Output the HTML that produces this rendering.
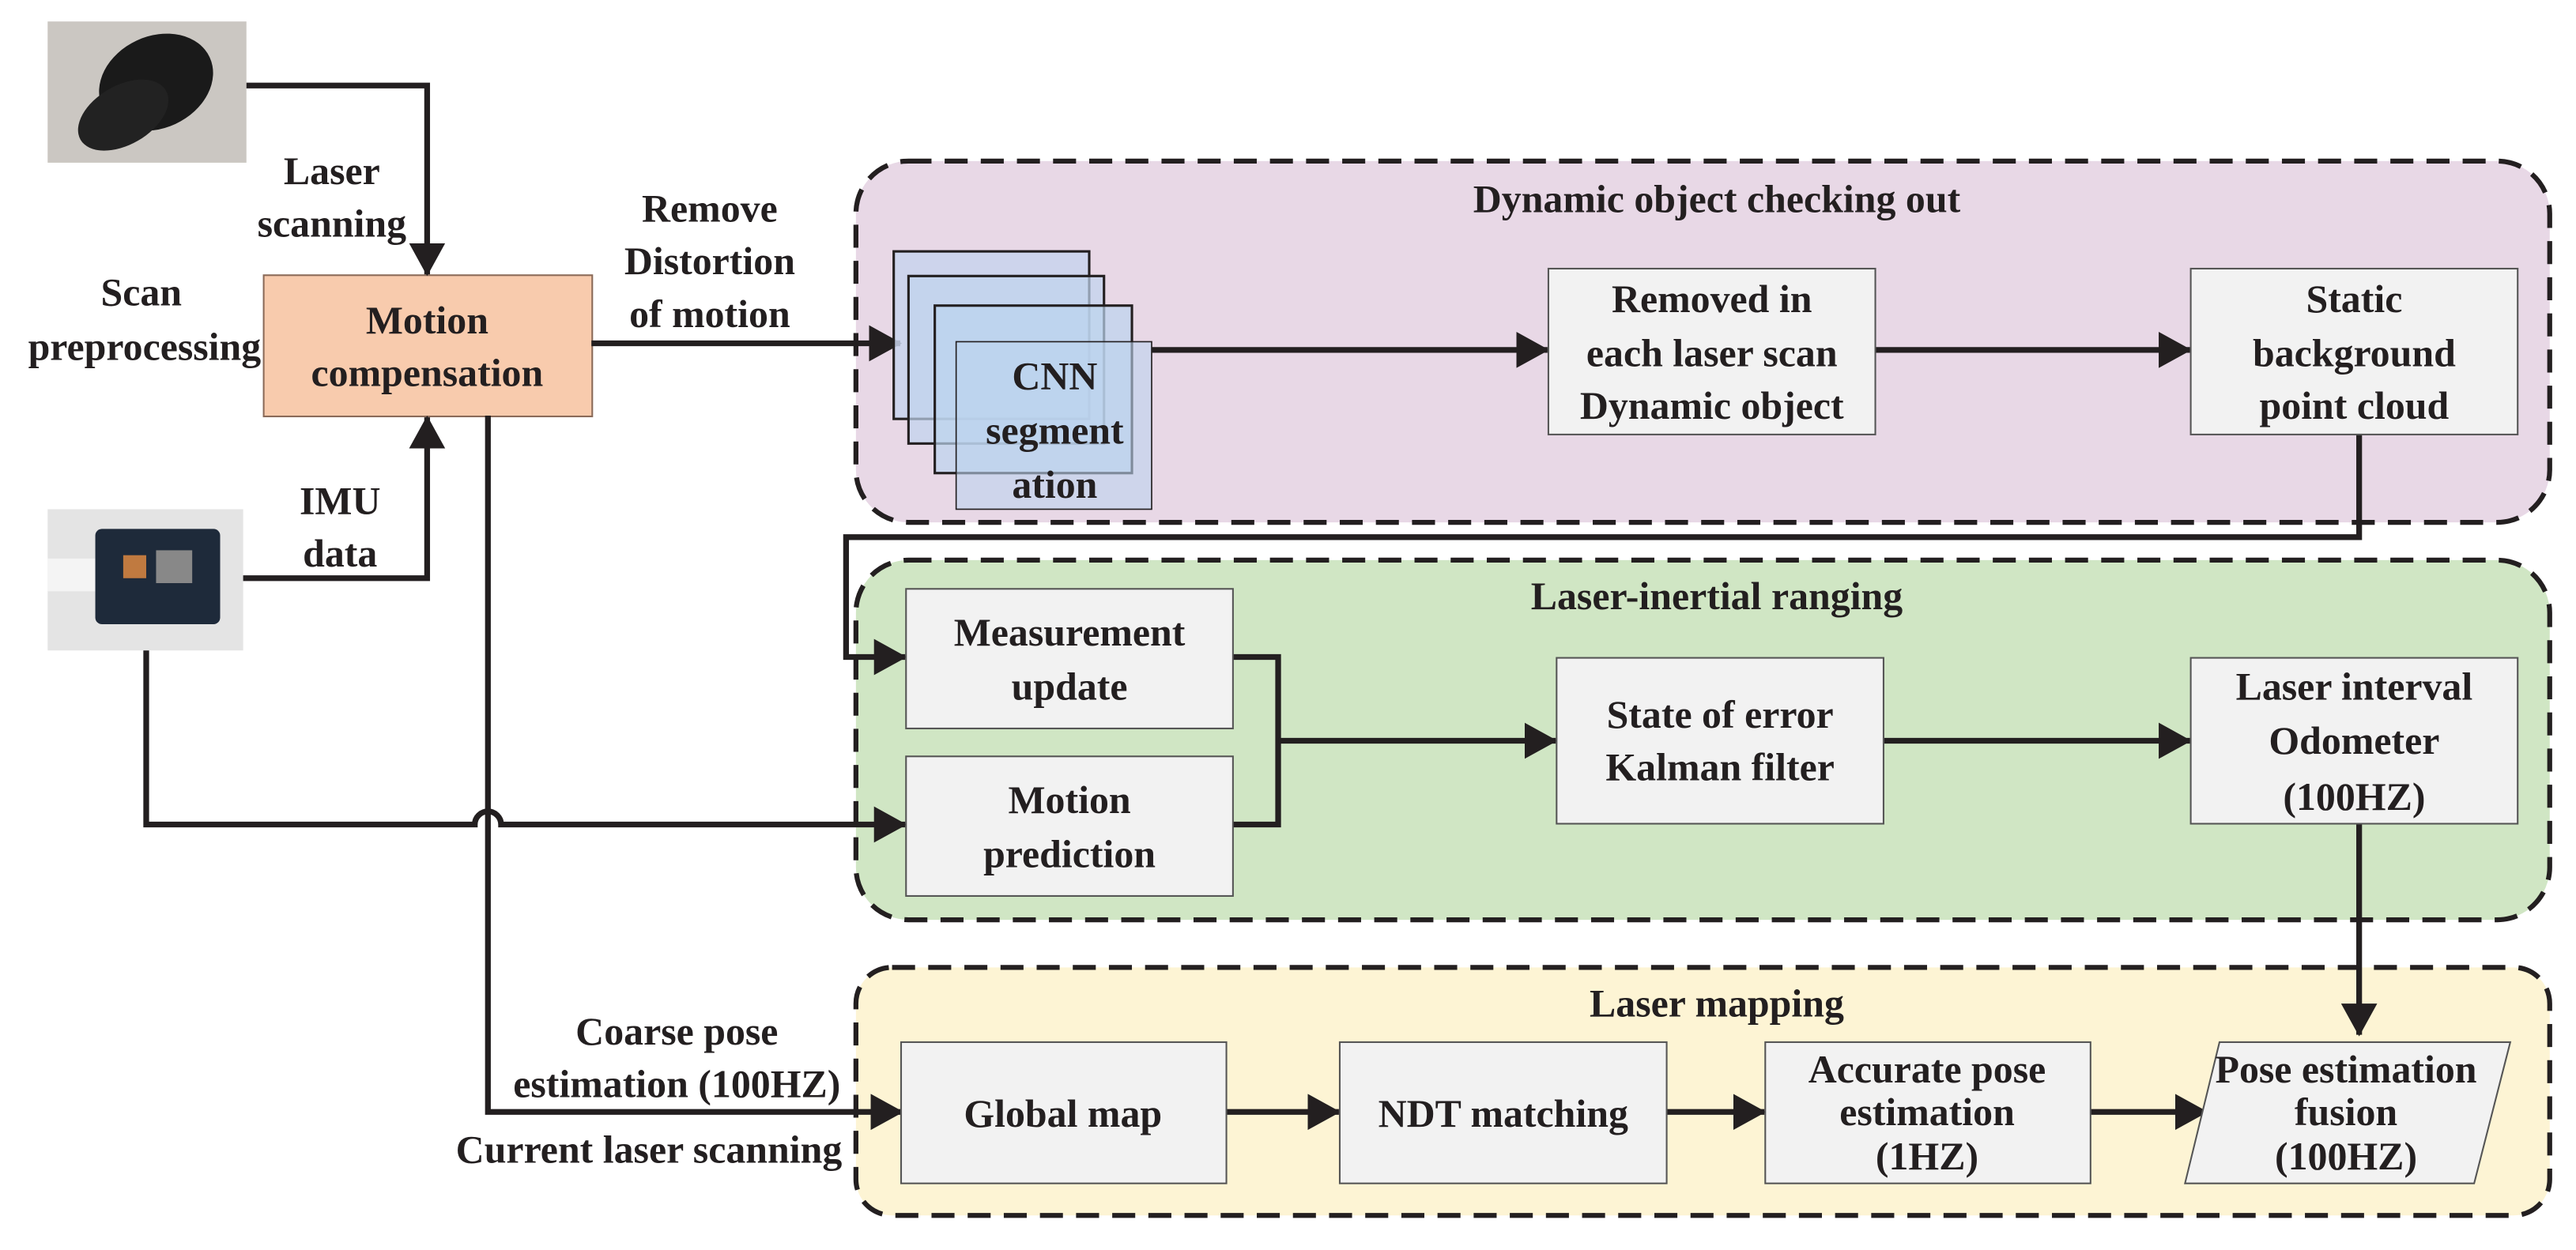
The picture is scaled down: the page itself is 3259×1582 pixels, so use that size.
<!DOCTYPE html>
<html><head><meta charset="utf-8"><style>
html,body{margin:0;padding:0;background:#fff;}
svg{display:block;}
text{font-family:"Liberation Serif",serif;font-size:24px;font-weight:bold;fill:#231f20;text-anchor:middle;}
</style></head><body>
<svg width="3259" height="1582" viewBox="0 0 1568 761" xmlns="http://www.w3.org/2000/svg">
<defs>
<marker id="b" markerWidth="20" markerHeight="22" refX="19" refY="11" orient="auto" markerUnits="userSpaceOnUse" viewBox="0 0 20 22">
<path d="M0,0 L20,11 L0,22 z" fill="#231f20"/></marker>
</defs>
<!-- photos -->
<rect x="29" y="13" width="121" height="86" fill="#cbc7c2"/>
<ellipse cx="95" cy="50" rx="36" ry="28" fill="#1a1a1a" transform="rotate(-25 95 50)"/>
<ellipse cx="75" cy="70" rx="30" ry="18" fill="#222" transform="rotate(-30 75 70)"/>
<rect x="29" y="310" width="119" height="86" fill="#e4e4e4"/>
<rect x="29" y="340" width="30" height="20" fill="#f4f4f4"/>
<rect x="58" y="322" width="76" height="58" rx="4" fill="#1e2a3a"/>
<rect x="75" y="338" width="14" height="14" fill="#c07a40"/>
<rect x="95" y="335" width="22" height="20" fill="#888"/>

<!-- groups -->
<rect x="521" y="98" width="1031" height="220" rx="32" fill="#e8d8e6" stroke="#231f20" stroke-width="3" stroke-dasharray="14 8"/>
<rect x="521" y="341" width="1031" height="219" rx="32" fill="#d0e6c4" stroke="#231f20" stroke-width="3" stroke-dasharray="14 8"/>
<rect x="521" y="589" width="1031" height="151" rx="22" fill="#fdf4d4" stroke="#231f20" stroke-width="3" stroke-dasharray="14 8"/>
<text x="1045" y="129">Dynamic object checking out</text>
<text x="1045" y="371">Laser-inertial ranging</text>
<text x="1045" y="619">Laser mapping</text>

<!-- left labels -->
<text x="202" y="112">Laser</text>
<text x="202" y="144">scanning</text>
<text x="86" y="186">Scan</text>
<text x="88" y="219">preprocessing</text>
<text x="207" y="313">IMU</text>
<text x="207" y="345">data</text>
<text x="432" y="135">Remove</text>
<text x="432" y="167">Distortion</text>
<text x="432" y="199">of motion</text>
<text x="412" y="636">Coarse pose</text>
<text x="412" y="668">estimation (100HZ)</text>
<text x="395" y="708">Current laser scanning</text>

<!-- motion compensation -->
<rect x="160.5" y="167.5" width="200" height="86" fill="#f8cbad" stroke="#8a6a58" stroke-width="1"/>
<text x="260" y="203">Motion</text>
<text x="260" y="235">compensation</text>

<!-- connectors -->
<g fill="none" stroke="#231f20" stroke-width="3.5">
<path d="M150 52 H260 V167" marker-end="url(#b)"/>
<path d="M148 352 H260 V254" marker-end="url(#b)"/>
<path d="M360 209 H548" marker-end="url(#b)"/>
<path d="M297 253 V677 H549" marker-end="url(#b)"/>
<path d="M89 396 V502 H289 A8 8 0 0 1 305 502 H551" marker-end="url(#b)"/>
<path d="M701 213 H942" marker-end="url(#b)"/>
<path d="M1141 213 H1333" marker-end="url(#b)"/>
<path d="M1436 264 V327 H515 V400 H551" marker-end="url(#b)"/>
<path d="M750 400 H778 V502 H750"/>
<path d="M778 451 H947" marker-end="url(#b)"/>
<path d="M1146 451 H1333" marker-end="url(#b)"/>
<path d="M1436 501 V630" marker-end="url(#b)"/>
<path d="M746 677 H815" marker-end="url(#b)"/>
<path d="M1014 677 H1074" marker-end="url(#b)"/>
<path d="M1272 677 H1343" marker-end="url(#b)"/>
</g>

<!-- CNN stack -->
<rect x="544" y="153" width="119" height="102" fill="#c8d4ec" fill-opacity="0.85" stroke="#231f20" stroke-width="1.5"/>
<rect x="553" y="168" width="119" height="102" fill="#c0d4ee" fill-opacity="0.7" stroke="#231f20" stroke-width="1.5"/>
<rect x="569" y="186" width="120" height="102" fill="#bcd4ee" fill-opacity="0.7" stroke="#231f20" stroke-width="1.5"/>
<rect x="582" y="208" width="119" height="102" fill="#bcd4ee" fill-opacity="0.6" stroke="#231f20" stroke-width="0.8"/>
<text x="642" y="237">CNN</text>
<text x="642" y="270">segment</text>
<text x="642" y="303">ation</text>

<!-- grey boxes -->
<g fill="#f2f2f2" stroke="#555" stroke-width="1">
<rect x="942.5" y="163.5" width="199" height="101"/>
<rect x="1333.5" y="163.5" width="199" height="101"/>
<rect x="551.5" y="358.5" width="199" height="85"/>
<rect x="551.5" y="460.5" width="199" height="85"/>
<rect x="947.5" y="400.5" width="199" height="101"/>
<rect x="1333.5" y="400.5" width="199" height="101"/>
<rect x="548.5" y="634.5" width="198" height="86"/>
<rect x="815.5" y="634.5" width="199" height="86"/>
<rect x="1074.5" y="634.5" width="198" height="86"/>
<path d="M1351 634.5 H1528 L1506 720.5 H1330 Z"/>
</g>
<text x="1042" y="190">Removed in</text>
<text x="1042" y="223">each laser scan</text>
<text x="1042" y="255">Dynamic object</text>
<text x="1433" y="190">Static</text>
<text x="1433" y="223">background</text>
<text x="1433" y="255">point cloud</text>
<text x="651" y="393">Measurement</text>
<text x="651" y="426">update</text>
<text x="651" y="495">Motion</text>
<text x="651" y="528">prediction</text>
<text x="1047" y="443">State of error</text>
<text x="1047" y="475">Kalman filter</text>
<text x="1433" y="426">Laser interval</text>
<text x="1433" y="459">Odometer</text>
<text x="1433" y="493">(100HZ)</text>
<text x="647" y="686">Global map</text>
<text x="915" y="686">NDT matching</text>
<text x="1173" y="659">Accurate pose</text>
<text x="1173" y="685">estimation</text>
<text x="1173" y="712">(1HZ)</text>
<text x="1428" y="659">Pose estimation</text>
<text x="1428" y="685">fusion</text>
<text x="1428" y="712">(100HZ)</text>
</svg>
</body></html>
